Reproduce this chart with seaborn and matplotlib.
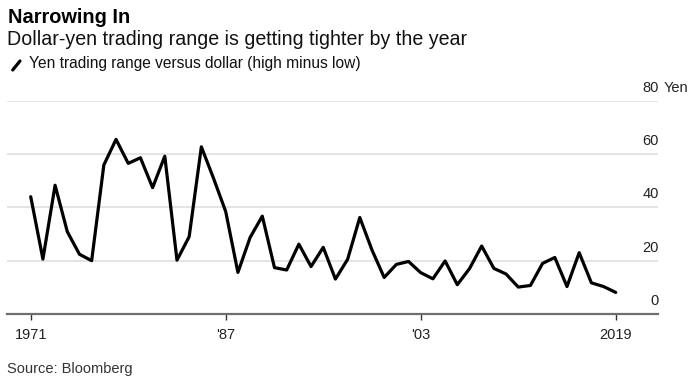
import pandas as pd
import seaborn as sns
import matplotlib.pyplot as plt
from matplotlib.lines import Line2D

# date: amplitudinea anuala dolar-yen (max - min)
years = list(range(1971, 2020))
yen_range = [44.0, 20.6, 48.3, 30.9, 22.4, 20.0, 55.9, 65.5, 56.5, 58.6,
             47.4, 59.2, 20.2, 29.0, 62.7, 50.9, 38.4, 15.6, 28.7, 36.7,
             17.4, 16.5, 26.2, 17.8, 25.0, 13.1, 20.5, 36.2, 24.0, 13.7,
             18.6, 19.7, 15.5, 13.2, 19.9, 11.0, 17.0, 25.5, 17.1, 15.0,
             10.1, 10.7, 19.0, 21.2, 10.3, 23.0, 11.7, 10.3, 8.1]
x_ticks = [1971, 1987, 2003, 2019]
x_tick_labels = ['1971', "'87", "'03", '2019']
y_ticks = [0, 20, 40, 60, 80]

df = pd.DataFrame({'Year': years, 'Range': yen_range})

sns.set_style('white')
plt.rcParams['font.family'] = ['Liberation Sans', 'DejaVu Sans']

fig = plt.figure(figsize=(6.97, 3.85), dpi=100)
ax = fig.add_axes([0.0105, 0.1844, 0.9336, 0.554])

sns.lineplot(data=df, x='Year', y='Range', color='black', linewidth=2.3, ax=ax)

ax.set_xlim(1969.08, 2022.47)
ax.set_ylim(0, 80)

# linii de ghidaj orizontale
for v in y_ticks[1:]:
    ax.axhline(v, color='#dcdcdc', linewidth=1.1, zorder=0)

for s in ['top', 'right', 'left']:
    ax.spines[s].set_visible(False)
ax.spines['bottom'].set_color('#6e6e6e')
ax.spines['bottom'].set_linewidth(1.6)

ax.set_yticks([])
ax.set_xticks(x_ticks)
ax.set_xticklabels(x_tick_labels)
ax.tick_params(axis='x', bottom=True, length=4, width=1, color='#333333',
               pad=6, labelsize=10.5, labelcolor='#222222')
ax.set_xlabel('')
ax.set_ylabel('')

# etichetele axei y deasupra liniilor, in dreapta
for v in y_ticks:
    ax.annotate(str(v), xy=(1.0, v), xycoords=('axes fraction', 'data'),
                xytext=(0.5, 6.5), textcoords='offset points',
                ha='right', va='baseline', fontsize=10.5, color='#222222')
ax.annotate('Yen', xy=(1.0, 80), xycoords=('axes fraction', 'data'),
            xytext=(4, 6.5), textcoords='offset points',
            ha='left', va='baseline', fontsize=10.5, color='#222222')

W, H = 697, 385
fig.text(8 / W, 1 - 23 / H, 'Narrowing In', fontsize=14.4, fontweight='bold',
         va='baseline', ha='left', color='black')
fig.text(7 / W, 1 - 45 / H, 'Dollar-yen trading range is getting tighter by the year',
         fontsize=14.1, va='baseline', ha='left', color='#111111')
fig.add_artist(Line2D([12.7 / W, 20 / W], [1 - 70 / H, 1 - 61 / H],
                      color='black', linewidth=2.3, transform=fig.transFigure))
fig.text(29 / W, 1 - 68 / H, 'Yen trading range versus dollar (high minus low)',
         fontsize=11.2, va='baseline', ha='left', color='#111111')
fig.text(7 / W, 1 - 373 / H, 'Source: Bloomberg', fontsize=10.5,
         va='baseline', ha='left', color='#333333')

fig.savefig('out.png', dpi=100)
